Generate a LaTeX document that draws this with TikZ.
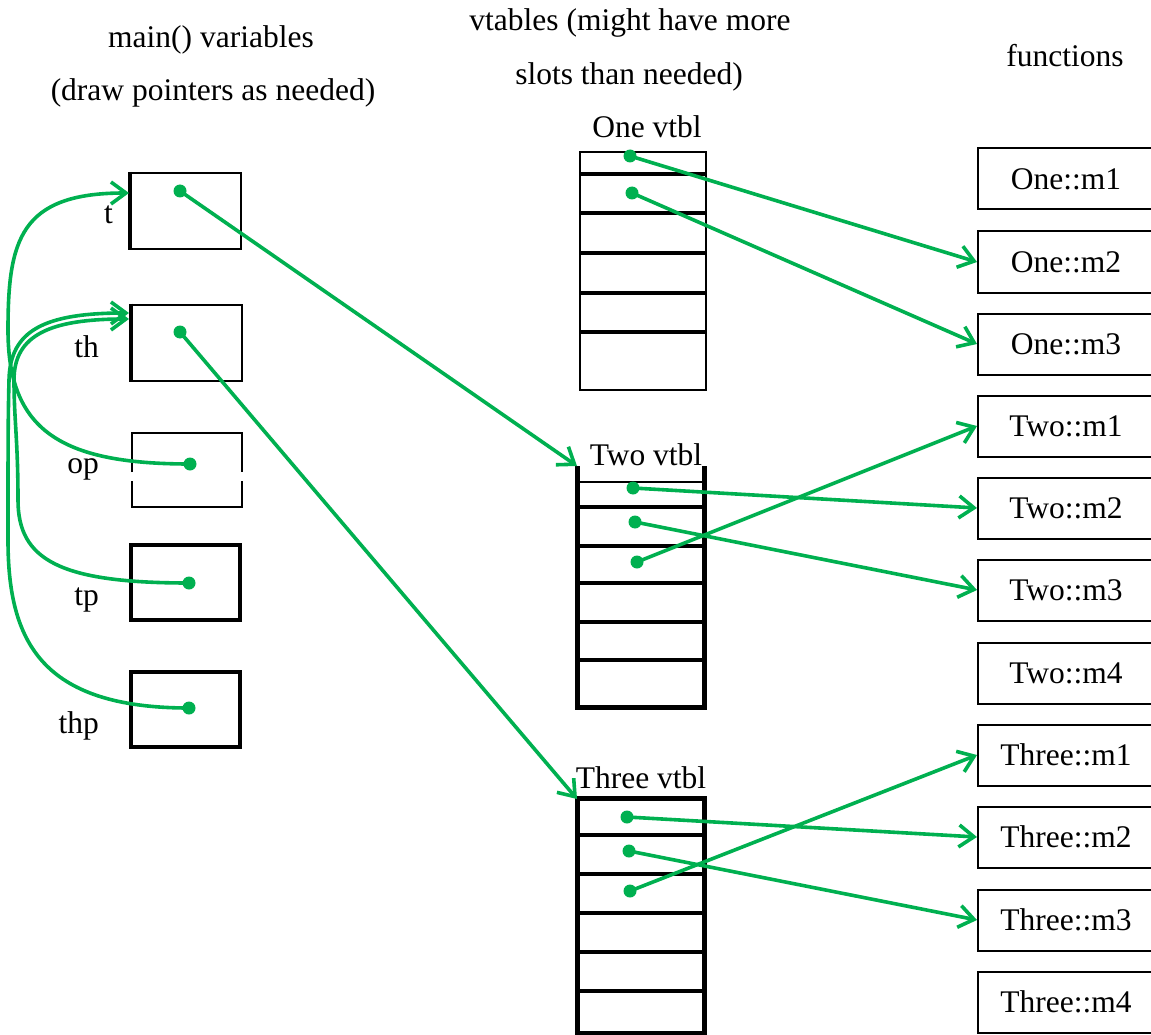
\documentclass[tikz,border=0pt]{standalone}
\usepackage{fontspec}
\setmainfont{Liberation Serif}
\usetikzlibrary{arrows.meta}
\definecolor{ptrgreen}{RGB}{0,176,80}
\begin{document}
\begin{tikzpicture}[x=1pt,y=-1pt,
  txt/.style={font=\fontsize{31.5}{37}\selectfont, inner sep=0pt},
  ptr/.style={draw=ptrgreen, line width=3.6pt, line cap=round,
     -{Straight Barb[length=15pt,width=22pt,line width=3.6pt]}},
  pdot/.style={circle, fill=ptrgreen, inner sep=0pt, minimum size=13pt},
  varbox/.style={draw, line width=2pt, minimum width=110pt, minimum height=76pt, inner sep=0pt},
  thickbox/.style={draw, line width=4pt, minimum width=109pt, minimum height=75pt, inner sep=0pt},
  fnbox/.style={draw, line width=2pt, minimum width=176pt, minimum height=61pt, inner sep=0pt,
     font=\fontsize{31.5}{37}\selectfont},
  sep/.style={line width=4.5pt},
]
\useasboundingbox (0,0) rectangle (1151,1035);

% headers
\node[txt, anchor=base] (h1) at (211,48) {main() variables};
\node[txt, anchor=base] (h2) at (213,101) {(draw pointers as needed)};
\node[txt, anchor=base] (h3) at (630,31) {vtables (might have more};
\node[txt, anchor=base] (h4) at (629,85) {slots than needed)};
\node[txt, anchor=base] (h5) at (1065,67) {functions};

% main() variable boxes
\node[varbox] (tbox) at (186,211) {};
\draw[line width=3.5pt] (tbox.north west) -- (tbox.south west);
\node[varbox] (thbox) at (187,342.5) {};
\draw[line width=3.5pt] (thbox.north west) -- (thbox.south west);
\node[inner sep=0pt, minimum width=110pt, minimum height=74pt] (opbox) at (187,470) {};
\draw[line width=2.3pt] (opbox.west |- 0,472) -- (opbox.north west) -- (opbox.north east) -- (opbox.east |- 0,472);
\draw[line width=2.3pt] (opbox.west |- 0,481) -- (opbox.south west) -- (opbox.south east) -- (opbox.east |- 0,481);
\node[thickbox] (tpbox) at (185.5,582.5) {};
\node[thickbox] (thpbox) at (185.5,709) {};

\node[txt, anchor=base east] (lt) at (113,223) {t};
\node[txt, anchor=base east] (lth) at (99,357) {th};
\node[txt, anchor=base east] (lop) at (99,473) {op};
\node[txt, anchor=base east] (ltp) at (99,605) {tp};
\node[txt, anchor=base east] (lthp) at (99,733) {thp};

% vtables
\node[txt, anchor=base] (onelab) at (647,138) {One vtbl};
\draw[line width=2.5pt] (580,152) rectangle (706,390);
\foreach \yy in {174,213,253,293,332} \draw[sep] (580,\yy) -- (706,\yy);

\node[txt, anchor=base] (twolab) at (646,465) {Two vtbl};
\draw[line width=5pt] (577,466) -- (577,707) -- (704,707) -- (704,466);
\draw[line width=2.5pt] (577,482) -- (704,482);
\foreach \yy in {507,546,583,622,660} \draw[sep] (577,\yy) -- (704,\yy);

\node[txt, anchor=base] (threelab) at (641,788) {Three vtbl};
\draw[line width=5pt] (577,798) rectangle (704,1033);
\foreach \yy in {835,874,913,952,991} \draw[sep] (577,\yy) -- (704,\yy);

\coordinate (twovt) at (577,466);
\coordinate (threevt) at (577,799);

% functions
\node[fnbox] (om1) at (1066,179) {One::m1};
\node[fnbox] (om2) at (1066,262) {One::m2};
\node[fnbox] (om3) at (1066,344) {One::m3};
\node[fnbox] (tm1) at (1066,426) {Two::m1};
\node[fnbox] (tm2) at (1066,508) {Two::m2};
\node[fnbox] (tm3) at (1066,590) {Two::m3};
\node[fnbox] (tm4) at (1066,673) {Two::m4};
\node[fnbox] (hm1) at (1066,755) {Three::m1};
\node[fnbox] (hm2) at (1066,837) {Three::m2};
\node[fnbox] (hm3) at (1066,920) {Three::m3};
\node[fnbox] (hm4) at (1066,1002) {Three::m4};

% dots
\node[pdot] (tdot) at (180,191) {};
\node[pdot] (thdot) at (180,332) {};
\node[pdot] (opdot) at (190,464) {};
\node[pdot] (tpdot) at (189,583) {};
\node[pdot] (thpdot) at (189,708) {};
\node[pdot] (o1) at (630,156) {};
\node[pdot] (o2) at (632,193) {};
\node[pdot] (w1) at (633,488) {};
\node[pdot] (w2) at (635,522) {};
\node[pdot] (w3) at (637,562) {};
\node[pdot] (r1) at (627,817) {};
\node[pdot] (r2) at (629,851) {};
\node[pdot] (r3) at (630,891) {};

\coordinate (tin) at (129,193);
\coordinate (thin1) at (129,313);
\coordinate (thin2) at (129,319);

% pointers
\draw[ptr] (tdot.center) -- (twovt);
\draw[ptr] (thdot.center) -- (threevt);
\draw[ptr] (o1.center) -- (om2.west);
\draw[ptr] (o2.center) -- (om3.west);
\draw[ptr] (w1.center) -- (tm2.west);
\draw[ptr] (w2.center) -- (tm3.west);
\draw[ptr] (w3.center) -- (tm1.west);
\draw[ptr] (r1.center) -- (hm2.west);
\draw[ptr] (r2.center) -- (hm3.west);
\draw[ptr] (r3.center) -- (hm1.west);

\draw[ptr] (opdot.center) .. controls (60,464) and (8,430) .. (8,330)
   .. controls (8,240) and (20,193) .. (tin);
\draw[ptr] (tpdot.center) .. controls (60,583) and (18,560) .. (18,500)
   .. controls (18,440) and (14,420) .. (14,380)
   .. controls (14,335) and (50,319) .. (thin2);
\draw[ptr] (thpdot.center) .. controls (40,708) and (8,640) .. (8,540)
   .. controls (8,450) and (8,420) .. (9,380)
   .. controls (10,330) and (45,313) .. (thin1);
\end{tikzpicture}
\end{document}
